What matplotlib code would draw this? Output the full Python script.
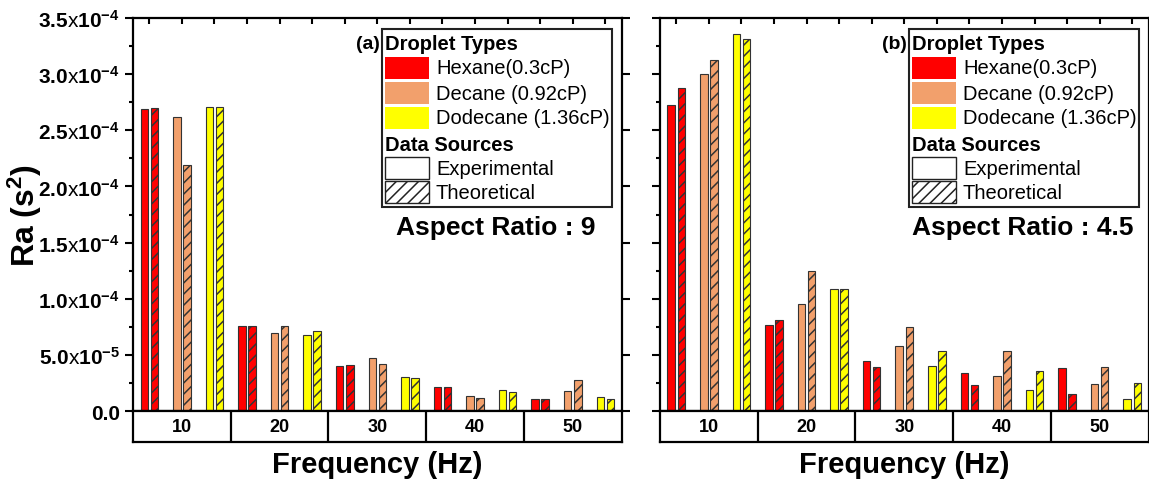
import matplotlib
matplotlib.use("Agg")
import matplotlib.pyplot as plt
import numpy as np
from matplotlib.patches import Rectangle
from matplotlib.ticker import MultipleLocator

plt.rcParams['font.family'] = ['Liberation Sans', 'DejaVu Sans']
plt.rcParams['mathtext.fontset'] = 'custom'
plt.rcParams['mathtext.rm'] = 'Liberation Sans'
plt.rcParams['mathtext.bf'] = 'Liberation Sans:bold'
plt.rcParams['mathtext.default'] = 'bf'
plt.rcParams['hatch.color'] = 'black'
plt.rcParams['hatch.linewidth'] = 1.1

# data
frequencies = ['10', '20', '30', '40', '50']
fluids = ['Hexane(0.3cP)', 'Decane (0.92cP)', 'Dodecane (1.36cP)']
fluid_colors = ['#ff0000', '#f2a06c', '#ffff00']

# Aspect ratio 9: rows = fluids, cols = frequencies
ar9_exp = np.array([
    [2.69e-4, 0.753e-4, 0.405e-4, 0.217e-4, 0.110e-4],
    [2.62e-4, 0.694e-4, 0.475e-4, 0.134e-4, 0.178e-4],
    [2.71e-4, 0.680e-4, 0.300e-4, 0.187e-4, 0.125e-4],
])
ar9_theo = np.array([
    [2.70e-4, 0.753e-4, 0.410e-4, 0.217e-4, 0.110e-4],
    [2.19e-4, 0.760e-4, 0.420e-4, 0.119e-4, 0.279e-4],
    [2.705e-4, 0.710e-4, 0.294e-4, 0.169e-4, 0.110e-4],
])
# Aspect ratio 4.5
ar45_exp = np.array([
    [2.726e-4, 0.768e-4, 0.448e-4, 0.338e-4, 0.380e-4],
    [3.00e-4, 0.955e-4, 0.575e-4, 0.311e-4, 0.243e-4],
    [3.355e-4, 1.09e-4, 0.400e-4, 0.184e-4, 0.107e-4],
])
ar45_theo = np.array([
    [2.877e-4, 0.813e-4, 0.390e-4, 0.234e-4, 0.154e-4],
    [3.13e-4, 1.246e-4, 0.745e-4, 0.531e-4, 0.389e-4],
    [3.31e-4, 1.09e-4, 0.534e-4, 0.356e-4, 0.249e-4],
])

ytick_vals = [0, 0.5e-4, 1.0e-4, 1.5e-4, 2.0e-4, 2.5e-4, 3.0e-4, 3.5e-4]
ytick_labels = ['0.0', r'$5.0\mathrm{x}10^{-5}$', r'$1.0\mathrm{x}10^{-4}$', r'$1.5\mathrm{x}10^{-4}$',
                r'$2.0\mathrm{x}10^{-4}$', r'$2.5\mathrm{x}10^{-4}$', r'$3.0\mathrm{x}10^{-4}$',
                r'$3.5\mathrm{x}10^{-4}$']

fig = plt.figure(figsize=(11.49, 4.85), dpi=100)

panels = [
    (0.1158, ar9_exp, ar9_theo, '(a)', 'Aspect Ratio : 9', True),
    (0.5744, ar45_exp, ar45_theo, '(b)', 'Aspect Ratio : 4.5', False),
]
ax_w, ax_b, ax_h = 0.4252, 0.1505, 0.8103
off, bw = 0.155, 0.23
lw_sp = 1.6

for left, exp, theo, tag, ar_text, show_labels in panels:
    ax = fig.add_axes([left, ax_b, ax_w, ax_h])
    for j in range(len(fluids)):
        pos = np.arange(len(frequencies)) * 3 + j
        ax.bar(pos - off, exp[j], width=bw, color=fluid_colors[j], edgecolor='#333333', linewidth=0.8)
        ax.bar(pos + off, theo[j], width=bw, color=fluid_colors[j], edgecolor='#333333',
               linewidth=0.8, hatch='///')
    ax.set_xlim(-0.5, 14.5)
    ax.set_ylim(0, 3.5e-4)
    for s in ax.spines.values():
        s.set_linewidth(lw_sp)

    ax.set_yticks(ytick_vals)
    ax.yaxis.set_minor_locator(MultipleLocator(2.5e-5))
    ax.tick_params(axis='y', which='major', direction='out', length=6, width=1.5,
                   right=True, labelsize=15)
    ax.tick_params(axis='y', which='minor', direction='out', length=3, width=1.5)
    if show_labels:
        ax.set_yticklabels(ytick_labels, fontweight='bold')
        ax.set_ylabel('Ra (s$^2$)', fontsize=23, fontweight='bold')
        ax.yaxis.set_label_coords(-0.182, 0.5)
    else:
        ax.set_yticklabels([])
    ax.set_xticks(np.arange(15))
    ax.tick_params(axis='x', which='major', direction='in', length=4, width=1.5,
                   bottom=False, top=True, labelbottom=False)

    # key box
    ax.add_patch(Rectangle((0.509, 0.519), 0.471, 0.453, transform=ax.transAxes,
                           facecolor='white', edgecolor='#222222', linewidth=1.5, zorder=5))
    ax.text(0.505, 0.934, tag, transform=ax.transAxes, ha='right', va='center',
            fontsize=14, fontweight='bold', zorder=6)
    rows = [0.934, 0.873, 0.809, 0.746, 0.679, 0.618, 0.557]
    ax.text(0.515, rows[0], 'Droplet Types', transform=ax.transAxes, va='center',
            fontsize=14.5, fontweight='bold', zorder=6)
    for j, name in enumerate(fluids):
        ax.add_patch(Rectangle((0.515, rows[j + 1] - 0.028), 0.09, 0.056, transform=ax.transAxes,
                               facecolor=fluid_colors[j], edgecolor='none', zorder=6))
        ax.text(0.620, rows[j + 1], name, transform=ax.transAxes, va='center', fontsize=14.5, zorder=6)
    ax.text(0.515, rows[4], 'Data Sources', transform=ax.transAxes, va='center',
            fontsize=14.5, fontweight='bold', zorder=6)
    for k, (name, h) in enumerate([('Experimental', None), ('Theoretical', '///')]):
        ax.add_patch(Rectangle((0.515, rows[5 + k] - 0.028), 0.09, 0.056, transform=ax.transAxes,
                               facecolor='white', edgecolor='#222222', linewidth=1.0,
                               hatch=h, zorder=6))
        ax.text(0.620, rows[5 + k], name, transform=ax.transAxes, va='center', fontsize=14.5, zorder=6)
    ax.text(0.742, 0.468, ar_text, transform=ax.transAxes, ha='center', va='center',
            fontsize=19, fontweight='bold')

    # frequency row
    axr = fig.add_axes([left, 0.0866, ax_w, 0.0639])
    axr.set_xlim(-0.5, 14.5)
    axr.set_ylim(0, 1)
    axr.set_xticks([])
    axr.set_yticks([])
    for s in axr.spines.values():
        s.set_linewidth(lw_sp)
    for i, f in enumerate(frequencies):
        if i > 0:
            axr.axvline(3 * i - 0.5, color='black', linewidth=lw_sp)
        axr.text(3 * i + 1, 0.5, f, ha='center', va='center', fontsize=13, fontweight='bold')
    axr.set_xlabel('Frequency (Hz)', fontsize=21, fontweight='bold', labelpad=6)

fig.savefig('out.png', dpi=100)
